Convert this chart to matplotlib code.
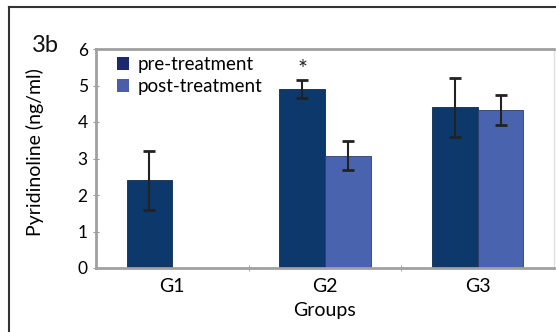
import matplotlib
matplotlib.use("Agg")
import matplotlib.pyplot as plt
import numpy as np

groups = ["G1", "G2", "G3"]
pre_values = [2.4, 4.9, 4.4]
pre_errors = [0.8, 0.25, 0.8]
post_values = [np.nan, 3.08, 4.33]
post_errors = [np.nan, 0.4, 0.4]
series_labels = ["pre-treatment", "post-treatment"]
yticks = [0, 1, 2, 3, 4, 5, 6]

pre_color = "#0c386c"
post_color = "#4a63ae"
font = ["Lato", "DejaVu Sans"]
plt.rcParams['font.family'] = font

fig = plt.figure(figsize=(5.56, 3.32), dpi=100)
fig.patch.set_facecolor("white")

# outer frame lines (top and left)
fig.add_artist(plt.Line2D([9/556, 1], [1-7/332, 1-7/332], color="#333333", lw=1.5, transform=fig.transFigure))
fig.add_artist(plt.Line2D([9/556, 9/556], [0, 1-7/332], color="#333333", lw=1.5, transform=fig.transFigure))

ax = fig.add_axes([96/556, 1-268/332, 458/556, (268-49)/332])
x = np.arange(len(groups))
w = 0.30
ax.bar(x - w/2, pre_values, w, color=pre_color, edgecolor="#0a2a50", lw=0.6, label=series_labels[0], zorder=2)
ax.bar(x + w/2, post_values, w, color=post_color, edgecolor="#2a3c70", lw=0.6, label=series_labels[1], zorder=2)
ax.errorbar(x - w/2, pre_values, yerr=pre_errors, fmt="none", ecolor="#222222", elinewidth=1.5, capsize=4, capthick=2, zorder=3)
ax.errorbar(x + w/2, post_values, yerr=post_errors, fmt="none", ecolor="#222222", elinewidth=1.5, capsize=4, capthick=2, zorder=3)

ax.text(x[1] - w/2, 5.15, "*", ha="center", va="bottom", fontsize=17, color="#222222")

ax.set_xlim(-0.5, 2.5)
ax.set_ylim(0, 6)
ax.set_yticks(yticks)
ax.set_xticks(x)
ax.set_xticklabels(groups, fontsize=14)
ax.set_xticks([0.5, 1.5], minor=True)
ax.tick_params(axis="x", which="major", length=0, pad=7)
ax.tick_params(axis="x", which="minor", length=4, color="#999999", direction="inout")
ax.tick_params(axis="y", labelsize=12.5, length=4, color="#999999", direction="inout", pad=4)
for s in ["top", "bottom", "left"]:
    ax.spines[s].set_color("#a0a0a0")
    ax.spines[s].set_linewidth(2)
ax.spines["right"].set_color("#e0e0e0")
ax.spines["right"].set_linewidth(1)

ax.set_xlabel("Groups", fontsize=14, labelpad=5)
fig.text(35/556, 1-152/332, "Pyridinoline (ng/ml)", fontsize=14, rotation=90, ha="center", va="center")

leg = ax.legend(loc="upper left", frameon=False, fontsize=13.5, handlelength=0.6, handleheight=0.7,
                handletextpad=0.5, labelspacing=0.25, borderaxespad=0.2, bbox_to_anchor=(0.022, 1.018))
for h in leg.legend_handles:
    h.set_edgecolor("none")
leg.legend_handles[0].set_facecolor("#1b2a6c")
leg.legend_handles[1].set_facecolor("#4b5cab")

fig.text(45/556, 1-45/332, "3b", fontsize=17, ha="center", va="center", color="#111111")

fig.savefig("out.png", dpi=100, facecolor="white")
